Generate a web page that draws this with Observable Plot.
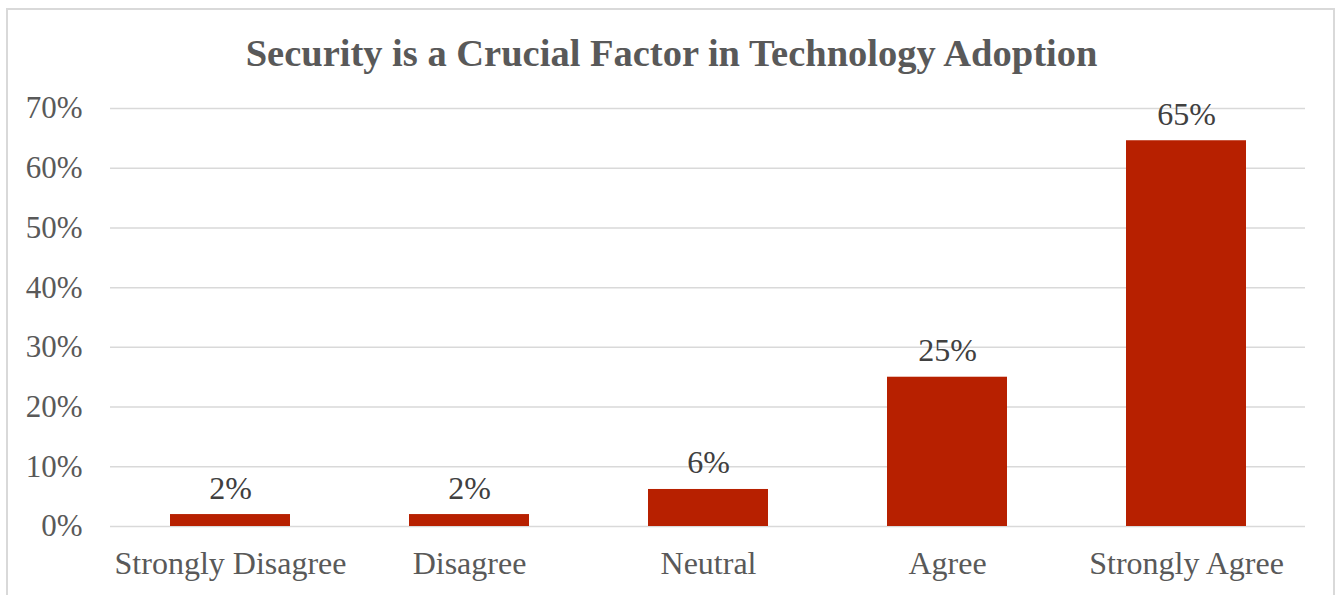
<!DOCTYPE html>
<html>
<head>
<meta charset="utf-8">
<script src="https://cdn.jsdelivr.net/npm/d3@7"></script>
<script src="https://cdn.jsdelivr.net/npm/@observablehq/plot@0.6"></script>
<style>
  html, body { margin: 0; padding: 0; background: #fff; overflow: hidden; }
  body { width: 1343px; height: 595px; position: relative; font-family: "Liberation Serif", "Times New Roman", serif; }
  #frame { position: absolute; left: 6px; top: 8px; width: 1329px; height: 620px; border: 2px solid #d9d9d9; box-sizing: border-box; }
  #title { position: absolute; left: 0; top: 0; width: 1343px; height: 90px; text-align: center; font-weight: bold; font-size: 38.5px; color: #595959; line-height: 106px; font-family: "Liberation Serif", serif; }
  #chart { position: absolute; left: 0; top: 90px; }
  #chart svg, #chart svg text { font-family: "Liberation Serif", serif !important; }
</style>
</head>
<body>
<div id="frame"></div>
<div id="title">Security is a Crucial Factor in Technology Adoption</div>
<div id="chart"></div>
<script>
const categories = ["Strongly Disagree", "Disagree", "Neutral", "Agree", "Strongly Agree"];
const values = [0.02, 0.02, 0.062, 0.25, 0.646];
const yTicks = [0, 0.1, 0.2, 0.3, 0.4, 0.5, 0.6, 0.7];

const data = categories.map((c, i) => ({category: c, value: values[i]}));
const pct = d3.format(".0%");

const chart = Plot.plot({
  width: 1343,
  height: 505,
  marginLeft: 110,
  marginRight: 38,
  marginTop: 18,
  marginBottom: 69,
  style: {fontFamily: "Liberation Serif, serif", fontSize: "31px", color: "#595959", background: "transparent"},
  x: {domain: categories, paddingInner: 0.5, paddingOuter: 0.25, label: null},
  y: {domain: [0, 0.7], label: null},
  marks: [
    Plot.gridY(yTicks, {stroke: "#d9d9d9", strokeOpacity: 1, strokeWidth: 1.5}),
    Plot.axisY(yTicks, {tickSize: 0, tickPadding: 28, tickFormat: pct, label: null, fontSize: 31, fill: "#595959"}),
    Plot.axisX({tickSize: 0, tickPadding: 25, label: null, fontSize: 32, fill: "#595959"}),
    Plot.barY(data, {x: "category", y: "value", fill: "#b72000"}),
    Plot.text(data, {x: "category", y: "value", text: d => pct(d.value), lineAnchor: "bottom", dy: -16, fontSize: 32, fill: "#404040"})
  ]
});
document.getElementById("chart").appendChild(chart);
</script>
</body>
</html>
